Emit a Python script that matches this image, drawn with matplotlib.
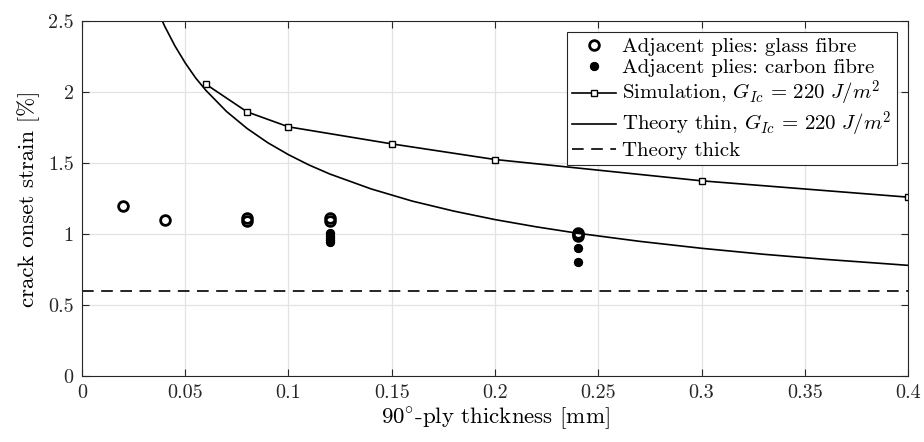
import matplotlib
matplotlib.use("Agg")
import matplotlib.pyplot as plt
import numpy as np

plt.rcParams['font.family'] = 'serif'
plt.rcParams['font.serif'] = ['cmr10', 'DejaVu Serif']
plt.rcParams['mathtext.fontset'] = 'cm'
plt.rcParams['axes.formatter.use_mathtext'] = True
plt.rcParams['axes.unicode_minus'] = False

# experimental points, glass fibre neighbours
glass_t = [0.02, 0.04, 0.08, 0.08, 0.12, 0.12, 0.24, 0.24, 0.24]
glass_eps = [1.20, 1.10, 1.11, 1.09, 1.11, 1.09, 1.01, 1.00, 0.99]

# experimental points, carbon fibre neighbours
carbon_t = [0.12, 0.12, 0.12, 0.12, 0.12, 0.24, 0.24]
carbon_eps = [1.01, 0.99, 0.97, 0.955, 0.945, 0.90, 0.80]

# simulation
sim_t = [0.06, 0.08, 0.10, 0.15, 0.20, 0.30, 0.40]
sim_eps = [2.055, 1.86, 1.755, 1.635, 1.525, 1.375, 1.26]

# theory thin
thin_t = [0.038, 0.04, 0.045, 0.05, 0.055, 0.06, 0.07, 0.08, 0.09, 0.10, 0.11, 0.12,
          0.14, 0.16, 0.18, 0.20, 0.22, 0.24, 0.27, 0.30, 0.33, 0.36, 0.40]
thin_eps = [2.53, 2.465, 2.325, 2.205, 2.10, 2.012, 1.863, 1.743, 1.643, 1.559, 1.486, 1.423,
            1.318, 1.232, 1.162, 1.102, 1.051, 1.006, 0.949, 0.900, 0.858, 0.822, 0.780]

# theory thick
thick_t = [0.0, 0.4]
thick_eps = [0.6, 0.6]

xticks = [0, 0.05, 0.1, 0.15, 0.2, 0.25, 0.3, 0.35, 0.4]
xticklabels = ['0', '0.05', '0.1', '0.15', '0.2', '0.25', '0.3', '0.35', '0.4']
yticks = [0, 0.5, 1, 1.5, 2, 2.5]
yticklabels = ['0', '0.5', '1', '1.5', '2', '2.5']

fig = plt.figure(figsize=(9.24, 4.42), dpi=100)
ax = fig.add_axes([0.0887, 0.149, 0.894, 0.8035])

ax.plot(glass_t, glass_eps, linestyle='none', marker='o', markersize=7,
        markerfacecolor='none', markeredgecolor='black', markeredgewidth=2,
        label='Adjacent plies: glass fibre')
ax.plot(carbon_t, carbon_eps, linestyle='none', marker=(10, 1, 0), markersize=6,
        color='black', markeredgewidth=2,
        label='Adjacent plies: carbon fibre')
ax.plot(sim_t, sim_eps, color='black', linewidth=1.2, marker='s', markersize=5,
        markerfacecolor='white', markeredgecolor='black', markeredgewidth=1,
        label=r'Simulation, $G_{Ic}\,=\,220\ J/m^2$')
ax.plot(thin_t, thin_eps, color='black', linewidth=1.2,
        label=r'Theory thin, $G_{Ic}\,=\,220\ J/m^2$')
ax.plot(thick_t, thick_eps, color='black', linewidth=1.2, linestyle=(0, (7, 4.5)),
        label='Theory thick')

ax.set_xlim(0, 0.4)
ax.set_ylim(0, 2.5)
ax.set_xticks(xticks)
ax.set_xticklabels(xticklabels)
ax.set_yticks(yticks)
ax.set_yticklabels(yticklabels)
ax.tick_params(direction='in', length=5, width=0.8, top=True, right=True,
               labelsize=14.5, colors='#262626', pad=6)
ax.grid(True, color='#e3e3e3', linewidth=0.9)
ax.set_axisbelow(True)
for s in ax.spines.values():
    s.set_color('#262626')
    s.set_linewidth(0.8)

ax.set_xlabel(r'$90^{\circ}$-ply thickness [mm]', fontsize=16.5, labelpad=2)
ax.set_ylabel('crack onset strain [%]', fontsize=16.5, labelpad=6)

leg = ax.legend(loc='upper right', fontsize=15, frameon=True, fancybox=False,
                edgecolor='#262626', framealpha=1, borderaxespad=0.55,
                handlelength=2.1, handletextpad=0.3, labelspacing=0.1,
                borderpad=0.25)
leg.get_frame().set_linewidth(0.8)

fig.savefig('out.png', dpi=100)
